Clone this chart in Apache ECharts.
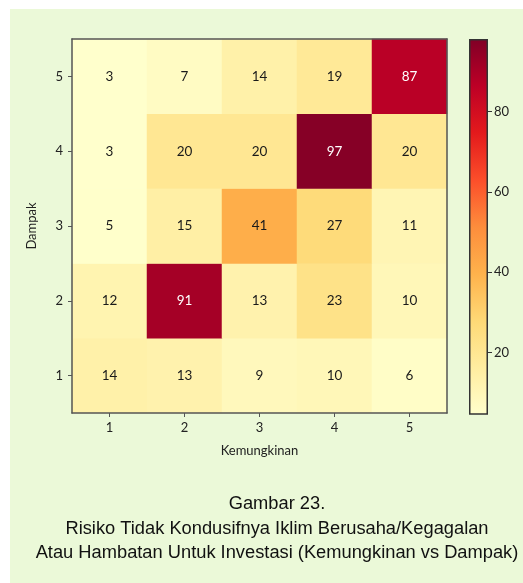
<!DOCTYPE html>
<html>
<head>
<meta charset="utf-8">
<script src="https://cdn.jsdelivr.net/npm/echarts@6/dist/echarts.min.js"></script>
<style>
html,body{margin:0;padding:0;background:#ffffff;}
#chart{width:523px;height:583px;}
</style>
</head>
<body>
<div id="chart"></div>
<script>
// Categories
var kemungkinan = ['1', '2', '3', '4', '5'];   // x axis
var dampak = ['1', '2', '3', '4', '5'];        // y axis (bottom to top)

// Values per Dampak row (x = Kemungkinan 1..5)
var dampak1 = [14, 13, 9, 10, 6];
var dampak2 = [12, 91, 13, 23, 10];
var dampak3 = [5, 15, 41, 27, 11];
var dampak4 = [3, 20, 20, 97, 20];
var dampak5 = [3, 7, 14, 19, 87];

// Colour scale range and colorbar ticks
var scaleMin = 4.7;
var scaleMax = 98.1;
var colorbarTicks = [20, 40, 60, 80];

var captionLines = [
  'Gambar 23.',
  'Risiko Tidak Kondusifnya Iklim Berusaha/Kegagalan',
  'Atau Hambatan Untuk Investasi (Kemungkinan vs Dampak)'
];

var ylOrRd = ['#ffffcc', '#ffeda0', '#fed976', '#feb24c', '#fd8d3c', '#fc4e2a', '#e31a1c', '#bd0026', '#800026'];

var rows = [dampak1, dampak2, dampak3, dampak4, dampak5];
var heatData = [];
rows.forEach(function (row, yi) {
  row.forEach(function (v, xi) {
    heatData.push({
      value: [xi, yi, v],
      label: { color: v > 70 ? '#ffffff' : '#1a1a1a' }
    });
  });
});

var font = 'Lato, "Open Sans", sans-serif';
var axisColor = '#555555';

var chart = echarts.init(document.getElementById('chart'), null, { renderer: 'canvas' });

var gradStops = ylOrRd.map(function (c, i) {
  return { offset: 1 - i / (ylOrRd.length - 1), color: c };
});

chart.setOption({
  backgroundColor: '#ffffff',
  animation: false,
  graphic: [{
    type: 'rect', z: -10, silent: true,
    shape: { x: 10, y: 9, width: 513, height: 574 },
    style: { fill: '#ebf9d8' }
  }],
  title: {
    text: captionLines.join('\n'),
    left: 272,
    top: 487,
    textAlign: 'center',
    textStyle: {
      fontFamily: '"Liberation Sans", Arial, sans-serif',
      fontSize: 18.3,
      fontWeight: 'normal',
      color: '#111111',
      lineHeight: 24.5
    }
  },
  grid: [
    { left: 72, top: 39, width: 375, height: 374 },
    { left: 469, top: 39, width: 19, height: 375 }
  ],
  xAxis: [{
    type: 'category', gridIndex: 0, data: kemungkinan,
    z: 10,
    name: 'Kemungkinan', nameLocation: 'middle', nameGap: 31,
    nameTextStyle: { fontFamily: font, fontSize: 13, color: '#222' },
    axisLine: { show: true, lineStyle: { color: axisColor, width: 1.5 } },
    axisTick: { show: true, alignWithLabel: true, length: 4, lineStyle: { color: axisColor } },
    axisLabel: { fontFamily: font, fontSize: 13, color: '#222', margin: 8 },
    splitLine: { show: false }
  }, {
    type: 'category', gridIndex: 0, data: kemungkinan, position: 'top',
    z: 10,
    axisLine: { show: true, lineStyle: { color: axisColor, width: 1.5 } },
    axisTick: { show: false }, axisLabel: { show: false }, splitLine: { show: false }
  }, {
    type: 'category', gridIndex: 1, data: [''],
    axisLine: { show: false }, axisTick: { show: false }, axisLabel: { show: false }
  }],
  yAxis: [{
    type: 'category', gridIndex: 0, data: dampak,
    z: 10,
    name: 'Dampak', nameLocation: 'middle', nameGap: 34, nameRotate: 90,
    nameTextStyle: { fontFamily: font, fontSize: 13, color: '#222' },
    axisLine: { show: true, lineStyle: { color: axisColor, width: 1.5 } },
    axisTick: { show: true, alignWithLabel: true, length: 4, lineStyle: { color: axisColor } },
    axisLabel: { fontFamily: font, fontSize: 13, color: '#222', margin: 9 },
    splitLine: { show: false }
  }, {
    type: 'category', gridIndex: 0, data: dampak, position: 'right',
    z: 10,
    axisLine: { show: true, lineStyle: { color: axisColor, width: 1.5 } },
    axisTick: { show: false }, axisLabel: { show: false }, splitLine: { show: false }
  }, {
    type: 'value', gridIndex: 1, position: 'right',
    min: scaleMin, max: scaleMax,
    axisLine: { show: false },
    axisTick: { show: true, length: 4, customValues: colorbarTicks, lineStyle: { color: '#333' } },
    axisLabel: { customValues: colorbarTicks, fontFamily: font, fontSize: 13, color: '#222', margin: 6 },
    splitLine: { show: false }
  }],
  visualMap: {
    show: false,
    type: 'continuous',
    min: scaleMin, max: scaleMax,
    seriesIndex: 0,
    dimension: 2,
    inRange: { color: ylOrRd }
  },
  series: [{
    type: 'heatmap',
    xAxisIndex: 0, yAxisIndex: 0,
    data: heatData,
    label: { show: true, fontFamily: font, fontSize: 13.5 },
    itemStyle: { borderWidth: 0 }
  }, {
    type: 'bar',
    xAxisIndex: 2, yAxisIndex: 2,
    data: [scaleMax],
    barWidth: '100%',
    clip: true,
    silent: true,
    itemStyle: {
      color: new echarts.graphic.LinearGradient(0, 0, 0, 1, gradStops),
      borderColor: '#333',
      borderWidth: 1.5
    }
  }]
});
</script>
</body>
</html>
